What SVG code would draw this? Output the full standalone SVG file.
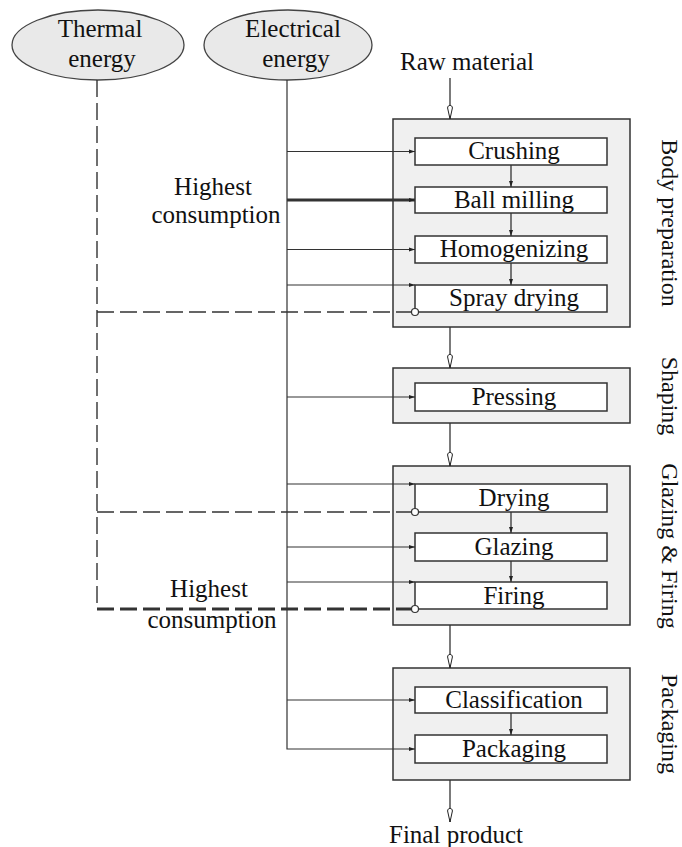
<svg xmlns="http://www.w3.org/2000/svg" width="682" height="847" viewBox="0 0 682 847">
<style>
text{font-family:"Liberation Serif","Times New Roman",serif;font-size:25px;fill:#111;text-anchor:middle}
.side{font-size:24px}
.stage{fill:#f0f0f0;stroke:#333;stroke-width:1.5}
.proc{fill:#fff;stroke:#333;stroke-width:1.5}
.src{fill:#e9e9e9;stroke:#444;stroke-width:1.3}
.el{stroke:#333;stroke-width:1.2;fill:none}
.th{stroke:#333;stroke-width:1.4;fill:none;stroke-dasharray:17 6}
.flow{stroke:#333;stroke-width:1.3;fill:none}
.thick{stroke-width:3}
.dot{fill:#fff;stroke:#333;stroke-width:1.2}
</style>
<defs>
<marker id="open" viewBox="-16 -4 17 8" markerWidth="17" markerHeight="8" refX="0" refY="0" orient="auto" markerUnits="userSpaceOnUse">
<path d="M0,0 L-11,-2.4 C-14.5,-2.4 -14.5,2.4 -11,2.4 Z" fill="#fff" stroke="#222" stroke-width="1"/>
</marker>
<marker id="solid" viewBox="-7 -3 8 6" markerWidth="8" markerHeight="6" refX="0" refY="0" orient="auto" markerUnits="userSpaceOnUse">
<path d="M0,0 L-6,-2 L-6,2 Z" fill="#222"/>
</marker>
</defs>

<g id="thermal-energy">
<ellipse class="src" cx="98" cy="45" rx="86" ry="35"/>
<text x="100" y="37">Thermal</text>
<text x="102" y="67">energy</text>
</g>
<g id="electrical-energy">
<ellipse class="src" cx="288" cy="45" rx="84" ry="35"/>
<text x="293" y="37">Electrical</text>
<text x="296" y="67">energy</text>
</g>
<g id="raw-material"><text x="467" y="70">Raw material</text></g>
<g id="final-product"><text x="456" y="843">Final product</text></g>

<g id="body-preparation">
<rect class="stage" x="393" y="119" width="237" height="208"/>
<text class="side" transform="translate(662,223) rotate(90)">Body preparation</text>
</g>
<g id="shaping">
<rect class="stage" x="393" y="368" width="237" height="55"/>
<text class="side" transform="translate(662,396) rotate(90)">Shaping</text>
</g>
<g id="glazing-firing">
<rect class="stage" x="393" y="466" width="237" height="159"/>
<text class="side" transform="translate(662,546) rotate(90)">Glazing &amp; Firing</text>
</g>
<g id="packaging-stage">
<rect class="stage" x="393" y="668" width="237" height="112"/>
<text class="side" transform="translate(662,724) rotate(90)">Packaging</text>
</g>

<g id="crushing"><rect class="proc" x="415" y="138" width="192" height="27"/><text x="514" y="159">Crushing</text></g>
<g id="ball-milling"><rect class="proc" x="415" y="187" width="192" height="26"/><text x="514" y="208">Ball milling</text></g>
<g id="homogenizing"><rect class="proc" x="415" y="236" width="192" height="27"/><text x="514" y="257">Homogenizing</text></g>
<g id="spray-drying"><rect class="proc" x="415" y="285" width="192" height="27"/><text x="514" y="306">Spray drying</text></g>
<g id="pressing"><rect class="proc" x="415" y="383" width="192" height="28"/><text x="514" y="405">Pressing</text></g>
<g id="drying"><rect class="proc" x="415" y="484" width="192" height="28"/><text x="514" y="506">Drying</text></g>
<g id="glazing"><rect class="proc" x="415" y="533" width="192" height="28"/><text x="514" y="555">Glazing</text></g>
<g id="firing"><rect class="proc" x="415" y="582" width="192" height="27"/><text x="514" y="604">Firing</text></g>
<g id="classification"><rect class="proc" x="415" y="687" width="192" height="26"/><text x="514" y="708">Classification</text></g>
<g id="packaging"><rect class="proc" x="415" y="735" width="192" height="28"/><text x="514" y="757">Packaging</text></g>

<g id="labels">
<text x="213" y="195">Highest</text>
<text x="216" y="223">consumption</text>
<text x="209" y="597">Highest</text>
<text x="212" y="628">consumption</text>
</g>

<g id="connectors">
<line class="flow" x1="450" y1="78" x2="450" y2="119" marker-end="url(#open)"/>
<line class="flow" x1="450" y1="327" x2="450" y2="368" marker-end="url(#open)"/>
<line class="flow" x1="450" y1="423" x2="450" y2="466" marker-end="url(#open)"/>
<line class="flow" x1="450" y1="625" x2="450" y2="668" marker-end="url(#open)"/>
<line class="flow" x1="450" y1="780" x2="450" y2="822" marker-end="url(#open)"/>
<line class="flow" x1="511" y1="165" x2="511" y2="187" marker-end="url(#solid)"/>
<line class="flow" x1="511" y1="213" x2="511" y2="236" marker-end="url(#solid)"/>
<line class="flow" x1="511" y1="263" x2="511" y2="285" marker-end="url(#solid)"/>
<line class="flow" x1="511" y1="512" x2="511" y2="533" marker-end="url(#solid)"/>
<line class="flow" x1="511" y1="561" x2="511" y2="582" marker-end="url(#solid)"/>
<line class="flow" x1="511" y1="713" x2="511" y2="735" marker-end="url(#solid)"/>
<polyline class="el" points="287,80 287,749 415,749" marker-end="url(#solid)"/>
<line class="el" x1="287" y1="151.5" x2="415" y2="151.5" marker-end="url(#solid)"/>
<line class="el thick" x1="287" y1="200" x2="415" y2="200" marker-end="url(#solid)"/>
<line class="el" x1="287" y1="249.5" x2="415" y2="249.5" marker-end="url(#solid)"/>
<line class="el" x1="287" y1="285" x2="415" y2="285" marker-end="url(#solid)"/>
<line class="el" x1="287" y1="397" x2="415" y2="397" marker-end="url(#solid)"/>
<line class="el" x1="287" y1="484" x2="415" y2="484" marker-end="url(#solid)"/>
<line class="el" x1="287" y1="547" x2="415" y2="547" marker-end="url(#solid)"/>
<line class="el" x1="287" y1="582" x2="415" y2="582" marker-end="url(#solid)"/>
<line class="el" x1="287" y1="700" x2="415" y2="700" marker-end="url(#solid)"/>
<line class="th" x1="97" y1="80" x2="97" y2="609"/>
<line class="th" x1="97" y1="312" x2="411.5" y2="312"/>
<line class="th" x1="97" y1="512" x2="411.5" y2="512"/>
<line class="th thick" x1="97" y1="609" x2="411.5" y2="609"/>
<circle class="dot" cx="415" cy="312" r="3.5"/>
<circle class="dot" cx="415" cy="512" r="3.5"/>
<circle class="dot" cx="415" cy="609" r="3.5"/>
</g>
</svg>
